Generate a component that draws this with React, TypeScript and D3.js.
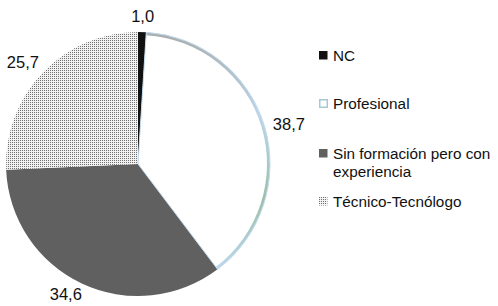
import React, { useEffect, useRef } from "react";
import * as d3 from "d3";

const categories = ["NC", "Profesional", "Sin formación pero con experiencia", "Técnico-Tecnólogo"];
const values = [1.0, 38.7, 34.6, 25.7];
const valueLabels = ["1,0", "38,7", "34,6", "25,7"];
const legendLines = [["NC"], ["Profesional"], ["Sin formación pero con", "experiencia"], ["Técnico-Tecnólogo"]];

const App = () => {
  const ref = useRef<SVGSVGElement>(null);

  useEffect(() => {
    const width = 498;
    const height = 306;
    const cx = 138;
    const cy = 164;
    const r = 132;
    const font = "Liberation Sans, Arial, sans-serif";

    const svg = d3.select(ref.current);
    svg.selectAll("*").remove();
    svg.attr("width", width).attr("height", height);

    const defs = svg.append("defs");
    const pat = defs
      .append("pattern")
      .attr("id", "dots")
      .attr("width", 2)
      .attr("height", 2)
      .attr("patternUnits", "userSpaceOnUse");
    pat.append("rect").attr("width", 2).attr("height", 2).attr("fill", "#f2f2f2");
    pat.append("rect").attr("width", 1).attr("height", 1).attr("fill", "#707070");

    const grad = defs
      .append("linearGradient")
      .attr("id", "edge")
      .attr("x1", "0")
      .attr("y1", "0")
      .attr("x2", "0")
      .attr("y2", "1");
    grad.append("stop").attr("offset", "0%").attr("stop-color", "#a9adad");
    grad.append("stop").attr("offset", "35%").attr("stop-color", "#bcd6ea");
    grad.append("stop").attr("offset", "70%").attr("stop-color", "#9dbfaa");
    grad.append("stop").attr("offset", "100%").attr("stop-color", "#bcd8ee");

    const fills = ["#111111", "#ffffff", "#606060", "url(#dots)"];

    const pie = d3.pie<number>().sort(null).value((d) => d);
    const arcs = pie(values);
    const arc = d3.arc<d3.PieArcDatum<number>>().innerRadius(0).outerRadius(r);

    const g = svg.append("g").attr("transform", `translate(${cx},${cy})`);

    g.selectAll("path.slice")
      .data(arcs)
      .enter()
      .append("path")
      .attr("class", "slice")
      .attr("d", arc)
      .attr("fill", (_, i) => fills[i])
      .attr("stroke", "none");

    // light border around the Profesional slice
    const edgeArc = d3
      .arc<d3.PieArcDatum<number>>()
      .innerRadius(r - 3)
      .outerRadius(r);
    g.append("path")
      .attr("d", edgeArc(arcs[1]) as string)
      .attr("fill", "url(#edge)");
    g.append("path")
      .attr("d", arc(arcs[1]) as string)
      .attr("fill", "none")
      .attr("stroke", "#c3dbee")
      .attr("stroke-width", 1);

    // label placement: radius and small angle nudge per slice
    const labelRadii = [148, 156, 149, 154];
    const labelShift = [0, 0.035, 0.066, -0.037];
    g.selectAll("text.val")
      .data(arcs)
      .enter()
      .append("text")
      .attr("class", "val")
      .attr("transform", (d, i) => {
        const a = (d.startAngle + d.endAngle) / 2 + labelShift[i];
        const x = Math.sin(a) * labelRadii[i];
        const y = -Math.cos(a) * labelRadii[i];
        return `translate(${x},${y})`;
      })
      .attr("text-anchor", "middle")
      .attr("dy", "0.36em")
      .attr("font-family", font)
      .attr("font-size", 16.5)
      .attr("fill", "#111")
      .text((_, i) => valueLabels[i]);

    const legendYs = [55, 103, 153, 201];
    const lg = svg.append("g");
    categories.forEach((c, i) => {
      const y = legendYs[i];
      const item = lg.append("g").attr("transform", `translate(319,${y})`).attr("data-name", c);
      if (i === 1) {
        item.append("rect").attr("x", 0.75).attr("y", -3.25).attr("width", 7.5).attr("height", 7.5)
          .attr("fill", "#ffffff").attr("stroke", "#a8c8d4").attr("stroke-width", 1.5);
      } else {
        item.append("rect").attr("x", 0).attr("y", -4).attr("width", 8.5).attr("height", 8.5).attr("fill", fills[i]);
      }
      const t = item
        .append("text")
        .attr("font-family", font)
        .attr("font-size", 15.3)
        .attr("fill", "#111");
      legendLines[i].forEach((line, j) => {
        t.append("tspan").attr("x", 14).attr("dy", j === 0 ? "0.36em" : "1.2em").text(line);
      });
    });
  }, []);

  return (
    <svg ref={ref} style={{ display: "block", position: "absolute", left: 0, top: 0 }}></svg>
  );
};

export default App;
